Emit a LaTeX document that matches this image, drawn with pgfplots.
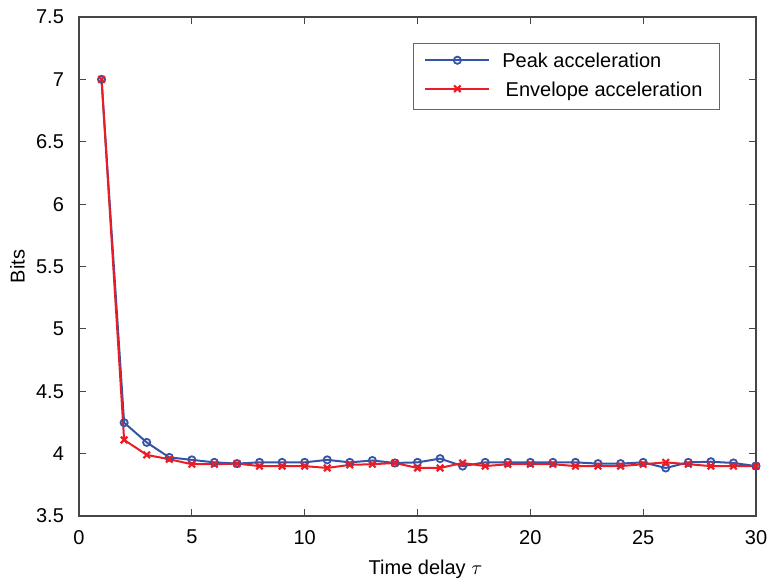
\documentclass[border=0pt]{standalone}
\usepackage{fontspec}
\setmainfont{Liberation Sans}
\usepackage{pgfplots}
\pgfplotsset{compat=1.18}
\definecolor{pblue}{RGB}{52,84,166}
\definecolor{pred}{RGB}{237,28,36}
\definecolor{axgray}{RGB}{70,70,70}
\begin{document}
\fontsize{10pt}{12pt}\selectfont
\begin{tikzpicture}
\begin{axis}[
  at={(0,0)}, anchor=south west,
  scale only axis,
  width=338.5pt, height=249.5pt,
  xmin=0, xmax=30, ymin=3.5, ymax=7.5,
  xtick={0,5,...,30},
  ytick={3.5,4,...,7.5},
  yticklabels={3.5,4,4.5,5,5.5,6,6.5,7,7.5},
  tick align=inside,
  major tick length=3.5pt,
  axis line style={axgray, line width=0.6pt},
  tick style={axgray, line width=0.6pt},
  /pgf/number format/assume math mode=true,
  tick label style={font=\fontsize{10pt}{12pt}\selectfont},
  xticklabel style={yshift=-3.5pt},
  yticklabel style={xshift=-4pt},
  xlabel={Time delay $\tau$},
  ylabel={Bits},
  label style={font=\fontsize{10pt}{12pt}\selectfont},
  xlabel style={yshift=-1pt, xshift=4pt},
  ylabel style={yshift=-1.2pt},
  legend style={
    at={(rel axis cs:1,1)}, anchor=north east,
    xshift=-18pt, yshift=-13pt,
    draw=black!60, line width=0.5pt,
    font=\fontsize{10pt}{12pt}\selectfont,
    inner xsep=5.5pt, inner ysep=3pt,
    row sep=1.5pt,
    nodes={inner xsep=3pt, yshift=-1pt},
    /tikz/every odd column/.append style={column sep=3pt},
  },
  legend cell align=left,
  legend image code/.code={
    \draw[mark repeat=2,mark phase=2] plot coordinates {(0pt,0pt)(16pt,0pt)(32pt,0pt)};
  },
]
\addplot[pblue, line width=1pt, mark=o, mark size=1.8pt, mark options={line width=0.9pt}] coordinates {
(1,7.0)(2,4.248)(3,4.09)(4,3.97)(5,3.95)(6,3.93)(7,3.92)(8,3.93)(9,3.93)(10,3.93)
(11,3.95)(12,3.93)(13,3.945)(14,3.925)(15,3.93)(16,3.96)(17,3.90)(18,3.93)(19,3.93)(20,3.93)
(21,3.93)(22,3.93)(23,3.92)(24,3.92)(25,3.93)(26,3.885)(27,3.93)(28,3.935)(29,3.925)(30,3.90)
};
\addlegendentry{Peak acceleration}
\addplot[pred, line width=1pt, mark=x, mark size=2.3pt, mark options={line width=1.1pt}] coordinates {
(1,7.0)(2,4.11)(3,3.99)(4,3.955)(5,3.915)(6,3.915)(7,3.92)(8,3.90)(9,3.90)(10,3.90)
(11,3.885)(12,3.91)(13,3.915)(14,3.925)(15,3.885)(16,3.885)(17,3.925)(18,3.90)(19,3.915)(20,3.915)
(21,3.915)(22,3.90)(23,3.90)(24,3.90)(25,3.915)(26,3.93)(27,3.915)(28,3.90)(29,3.90)(30,3.90)
};
\addlegendentry{\,Envelope acceleration}
\end{axis}
\pgfresetboundingbox
\path[use as bounding box] (-39.5pt,-31pt) rectangle (346pt,258pt);
\end{tikzpicture}
\end{document}
